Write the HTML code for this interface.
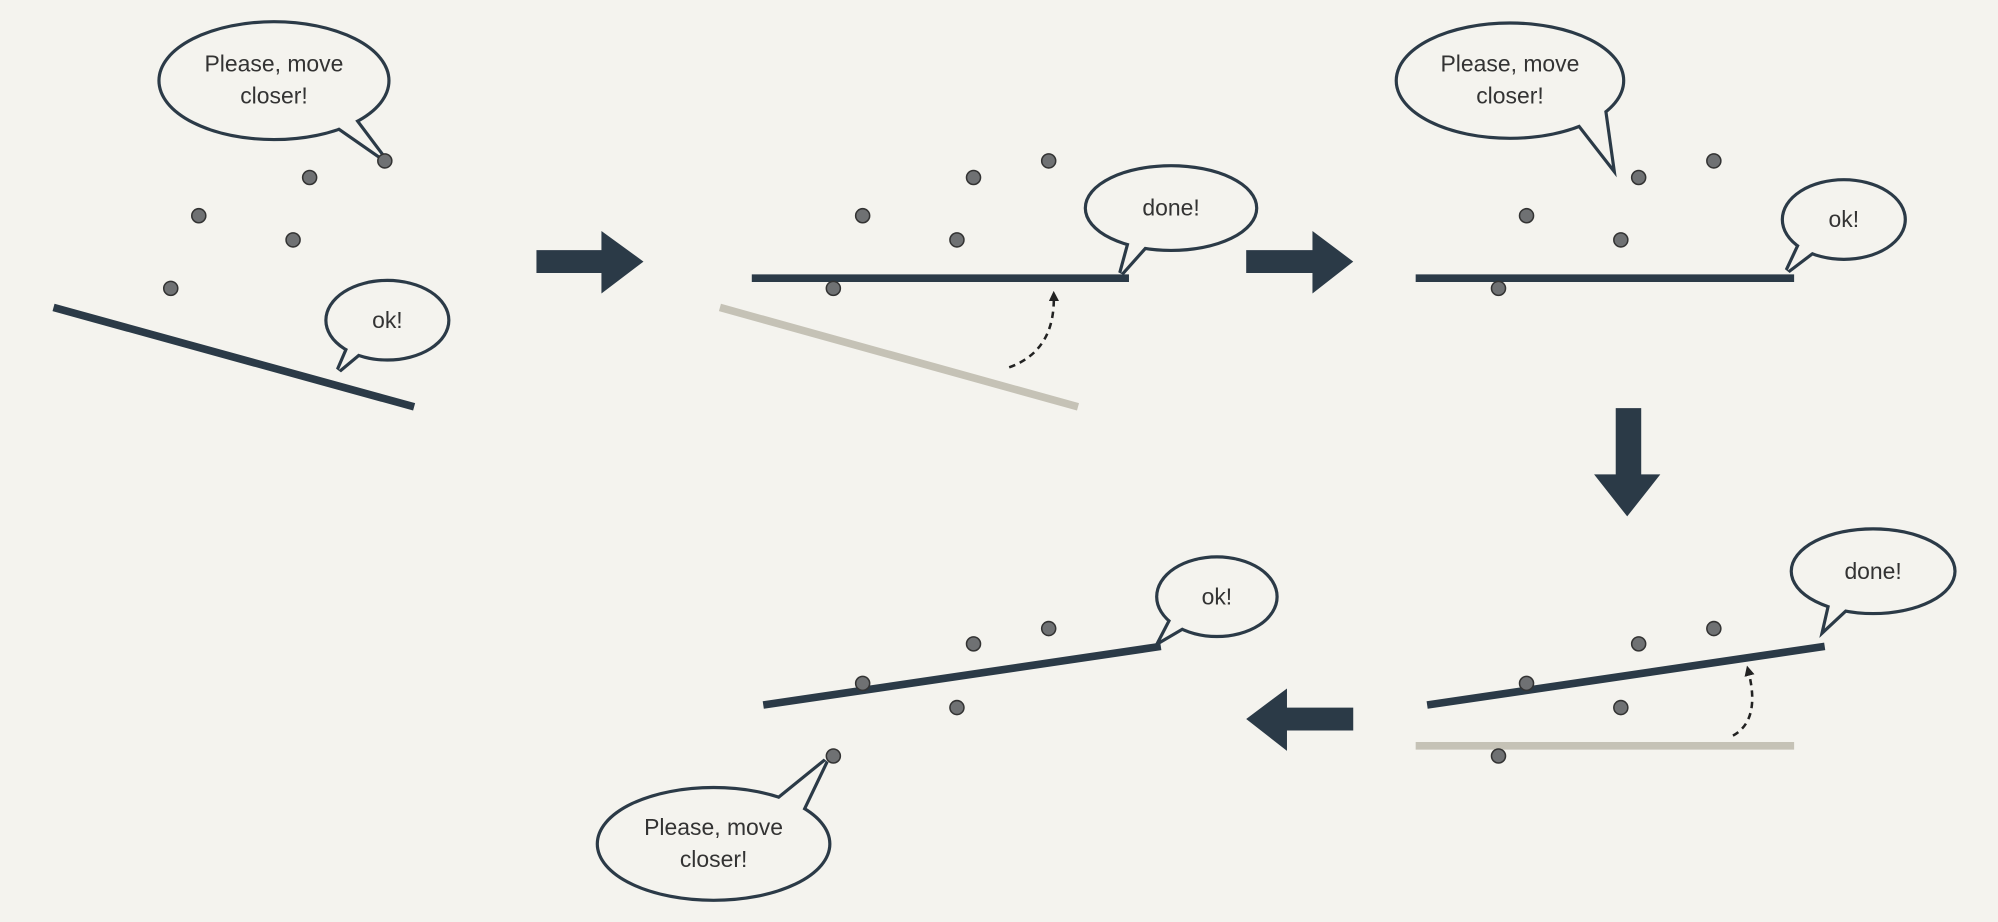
<!DOCTYPE html>
<html><head><meta charset="utf-8"><style>
html,body{margin:0;padding:0;background:#f4f3ee;}
svg{display:block}
text{font-family:"Liberation Sans",sans-serif;font-size:18px;fill:#333;text-anchor:middle}
</style></head><body>
<svg width="1998" height="922" viewBox="0 0 1568 723" xmlns="http://www.w3.org/2000/svg">
<defs>
<marker id="ah" markerWidth="8" markerHeight="8" refX="4" refY="4" orient="auto" markerUnits="userSpaceOnUse"><path d="M0,0 L8,4 L0,8 Z" fill="#222"/></marker>
<g id="b1"><ellipse cx="215" cy="63" rx="89" ry="45"/><polygon points="245,85 301,124 268,80"/></g>
<g id="b2"><ellipse cx="304" cy="251" rx="47" ry="30"/><polygon points="278,262 266,290 296,265"/></g>
<g id="b3"><ellipse cx="919" cy="163" rx="66" ry="32"/><polygon points="892,170 880,214 912,178"/></g>
<g id="b4"><ellipse cx="1185" cy="63" rx="88" ry="44"/><polygon points="1230,85 1265,130 1258,80"/></g>
<g id="b5"><ellipse cx="1447" cy="172" rx="47" ry="30"/><polygon points="1418,180 1403,212 1432,190"/></g>
<g id="b6"><ellipse cx="1470" cy="448" rx="63" ry="32"/><polygon points="1440,458 1432,493 1462,465"/></g>
<g id="b7"><ellipse cx="955" cy="468" rx="46" ry="30"/><polygon points="925,475 911,502 940,485"/></g>
<g id="b8"><ellipse cx="560" cy="662" rx="90" ry="43"/><polygon points="595,640 648,597 625,645"/></g>
</defs>
<rect width="1568" height="723" fill="#f4f3ee"/>
<g stroke="#2b3a47" stroke-width="5" stroke-linejoin="miter" fill="#f4f3ee">
<use href="#b1"/><use href="#b2"/><use href="#b3"/><use href="#b4"/><use href="#b5"/><use href="#b6"/><use href="#b7"/><use href="#b8"/>
</g>
<g fill="#f4f3ee" stroke="none">
<use href="#b1"/><use href="#b2"/><use href="#b3"/><use href="#b4"/><use href="#b5"/><use href="#b6"/><use href="#b7"/><use href="#b8"/>
</g>
<g>
<text x="215" y="56">Please, move</text><text x="215" y="81">closer!</text>
<text x="304" y="257">ok!</text>
<text x="919" y="169">done!</text>
<text x="1185" y="56">Please, move</text><text x="1185" y="81">closer!</text>
<text x="1447" y="178">ok!</text>
<text x="1470" y="454">done!</text>
<text x="955" y="474">ok!</text>
<text x="560" y="655">Please, move</text><text x="560" y="680">closer!</text>
</g>
<g stroke-width="6" fill="none">
<line x1="42" y1="241" x2="325" y2="319" stroke="#2b3a47"/>
<line x1="565" y1="241" x2="846" y2="319" stroke="#c5c2b6"/>
<line x1="590" y1="218" x2="886" y2="218" stroke="#2b3a47"/>
<line x1="1111" y1="218" x2="1408" y2="218" stroke="#2b3a47"/>
<line x1="1111" y1="585" x2="1408" y2="585" stroke="#c5c2b6"/>
<line x1="1120" y1="553" x2="1432" y2="507" stroke="#2b3a47"/>
<line x1="599" y1="553" x2="911" y2="507" stroke="#2b3a47"/>
</g>
<g stroke="#222" stroke-width="2" stroke-dasharray="5,4" fill="none">
<path d="M792,288 Q828,275 827,232" marker-end="url(#ah)"/>
<path d="M1360,577 Q1382,565 1372,526" marker-end="url(#ah)"/>
</g>
<g fill="#6f7173" stroke="#333" stroke-width="1.2">
<circle cx="302" cy="126" r="5.5"/><circle cx="243" cy="139" r="5.5"/><circle cx="156" cy="169" r="5.5"/><circle cx="230" cy="188" r="5.5"/><circle cx="134" cy="226" r="5.5"/>
<circle cx="823" cy="126" r="5.5"/><circle cx="764" cy="139" r="5.5"/><circle cx="677" cy="169" r="5.5"/><circle cx="751" cy="188" r="5.5"/><circle cx="654" cy="226" r="5.5"/>
<circle cx="1345" cy="126" r="5.5"/><circle cx="1286" cy="139" r="5.5"/><circle cx="1198" cy="169" r="5.5"/><circle cx="1272" cy="188" r="5.5"/><circle cx="1176" cy="226" r="5.5"/>
<circle cx="1345" cy="493" r="5.5"/><circle cx="1286" cy="505" r="5.5"/><circle cx="1198" cy="536" r="5.5"/><circle cx="1272" cy="555" r="5.5"/><circle cx="1176" cy="593" r="5.5"/>
<circle cx="823" cy="493" r="5.5"/><circle cx="764" cy="505" r="5.5"/><circle cx="677" cy="536" r="5.5"/><circle cx="751" cy="555" r="5.5"/><circle cx="654" cy="593" r="5.5"/>
</g>
<g fill="#2b3a47">
<polygon points="421,196 472,196 472,181 505,205 472,230 472,214 421,214"/>
<polygon points="978,196 1030,196 1030,181 1062,205 1030,230 1030,214 978,214"/>
<polygon points="1268,320 1288,320 1288,372 1303,372 1277,405 1251,372 1268,372"/>
<polygon points="1062,555 1010,555 1010,540 978,564 1010,589 1010,573 1062,573"/>
</g>
</svg>
</body></html>
